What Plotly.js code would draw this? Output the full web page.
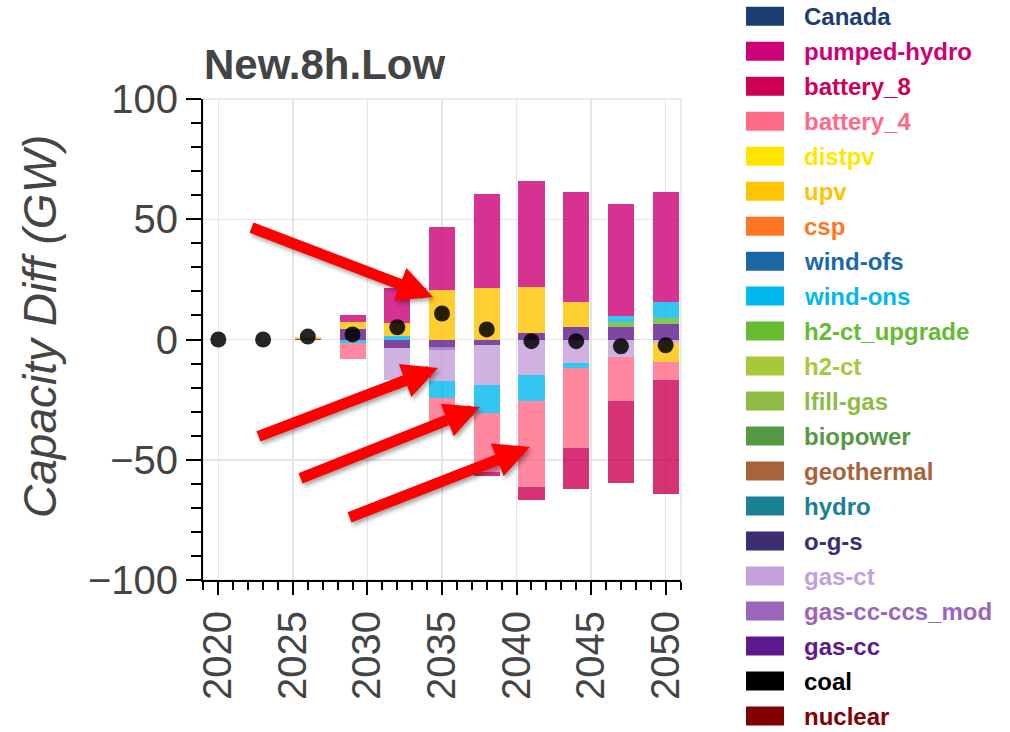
<!DOCTYPE html>
<html>
<head>
<meta charset="utf-8">
<script src="https://cdn.plot.ly/plotly-3.0.1.min.js"></script>
<style>
  html, body { margin: 0; padding: 0; background: #fff; }
  #chart { width: 1010px; height: 732px; }
  .annotation-arrow-g { filter: drop-shadow(2px 3px 2px rgba(0, 0, 0, 0.35)); }
</style>
</head>
<body>
<div id="chart"></div>
<script>
// Solve years
const years = [2020, 2023, 2026, 2029, 2032, 2035, 2038, 2041, 2044, 2047, 2050];

// Capacity difference by technology (GW)
const nuclear      = [0, 0, 0, 0, 0, 0, 0, 0, 0, 0, 0];
const coal         = [0, 0, 0, 0, 0, 0, 0, 0, 0, 0, 0];
const gasCC        = [0, 0, 0.3, 4.5, -3.5, -3.0, -2.3, 2.8, 5.3, 5.3, 6.4];
const gasCCCCS     = [0, 0, 0, 0, 0, -1.2, 0, 0, 0, 0, 0];
const gasCT        = [0, 0, 0, 0, -13.3, -13.1, -16.6, -14.6, -9.9, -7.2, -1.6];
const ogs          = [0, 0, 0, 0, 0, 0, 0, 0, 0, 0, 0];
const hydro        = [0, 0, 0, 0, 0, 0, 0, 0, 0, 0, 0];
const geothermal   = [0, 0, 0, 0, 0, 0, 0, 0, 0, 0, 0];
const biopower     = [0, 0, 0, 0, 0, 0, 0, 0, 0, 0, 0];
const lfillGas     = [0, 0, 0, 0, 0, 0, 0, 0, 0, 0, 0];
const h2CT         = [0, 0, 0, 0, 0, 0, 0, 0, 0, 0, 0];
const h2CTUpgrade  = [0, 0, 0, 0, 0, 0, 0, 0, 0, 2.1, 2.4];
const windOns      = [0, 0, 0, -1.5, 1.5, -7.0, -11.5, -11.0, -2.1, 2.5, 6.9];
const windOfs      = [0, 0, 0, 0, 0, 0, 0, 0, 0, 0, 0];
const csp          = [0, 0, 0, 0, 0, 0, 0, 0, 0, 0, 0];
const upv          = [0, 0, 0.9, 2.8, 5.2, 20.6, 21.3, 19.2, 10.4, 0, -7.9];
const distpv       = [0, 0, 0, 0, 0, 0, 0, 0, 0, 0, 0];
const battery4     = [0, 0, 0, -6.7, 0, -11.3, -24.6, -35.9, -33.2, -18.4, -7.3];
const battery8     = [0, 0, 0, 0, 0, 0, -1.8, -5.2, -17.1, -33.9, -47.4];
const pumpedHydro  = [0, 0, 0, 2.9, 14.6, 26.0, 39.2, 44.0, 45.5, 46.4, 45.5];
const canada       = [0, 0, 0, 0, 0, 0, 0, 0, 0, 0, 0];

// Net capacity difference (GW)
const netChange = [0, 0, 1.2, 2.1, 5.1, 10.8, 4.2, -0.7, -0.7, -2.8, -2.4];

// Stacking order, from the zero line outward
const techNames = ['nuclear', 'coal', 'gas-cc', 'gas-cc-ccs_mod', 'gas-ct', 'o-g-s', 'hydro',
  'geothermal', 'biopower', 'lfill-gas', 'h2-ct', 'h2-ct_upgrade', 'wind-ons', 'wind-ofs',
  'csp', 'upv', 'distpv', 'battery_4', 'battery_8', 'pumped-hydro', 'Canada'];
const techColors = ['#820000', '#000000', '#5e1a8c', '#9966bb', '#c4a0da', '#3d2e72', '#1a8096',
  '#a9633a', '#559944', '#8ebb44', '#a6c83a', '#66bb33', '#00b8ee', '#1a69a6',
  '#ff7722', '#ffc400', '#ffe600', '#ff6a86', '#cc0055', '#cc0077', '#1c3d70'];
const techValues = [nuclear, coal, gasCC, gasCCCCS, gasCT, ogs, hydro, geothermal, biopower,
  lfillGas, h2CT, h2CTUpgrade, windOns, windOfs, csp, upv, distpv, battery4, battery8,
  pumpedHydro, canada];

const FONT = 'Liberation Sans, Arial, Helvetica, sans-serif';

const traces = techNames.map((name, i) => ({
  type: 'bar',
  name: name,
  x: years,
  y: techValues[i],
  width: 1.75,
  opacity: 0.8,
  marker: { color: techColors[i], line: { width: 0 } },
  showlegend: false,
  hoverinfo: 'x+y+name'
}));

traces.push({
  type: 'scatter',
  mode: 'markers',
  name: 'net',
  x: years,
  y: netChange,
  marker: { color: 'rgba(0,0,0,0.85)', size: 16 },
  showlegend: false
});

// plot area in pixels
const L = 203, R = 681, T = 99, B = 580;
const px = v => (v - L) / (R - L);
const py = v => (B - v) / (B - T);

const annotations = [];
const shapes = [];

// y-axis title
annotations.push({
  xref: 'paper', yref: 'paper', x: px(40), y: py(327),
  xanchor: 'center', yanchor: 'middle', textangle: -90, showarrow: false,
  text: '<i>Capacity Diff (GW)</i>',
  font: { family: FONT, size: 46, color: '#444' }
});

// callout arrows: [tail x, tail y, tip x, tip y]
const arrows = [
  [250, 227, 433, 297],
  [257, 437, 438, 368],
  [299, 479, 480, 407],
  [348, 518, 530, 447]
];
arrows.forEach(a => {
  annotations.push({
    xref: 'paper', yref: 'paper', x: px(a[2]), y: py(a[3]),
    axref: 'pixel', ayref: 'pixel', ax: a[0] - a[2], ay: a[1] - a[3],
    text: '', showarrow: true, arrowhead: 2, arrowwidth: 11, arrowsize: 0.64,
    arrowcolor: '#ff0000'
  });
});

// legend, listed from the outermost stack layer down
const rowTop = 16.2, rowStep = 34.99;
for (let k = 0; k < techNames.length; k++) {
  const i = techNames.length - 1 - k;
  const cy = rowTop + rowStep * k;
  shapes.push({
    type: 'rect', xref: 'paper', yref: 'paper',
    x0: px(746), x1: px(784), y0: py(cy + 9.5), y1: py(cy - 9.5),
    fillcolor: techColors[i], line: { width: 0 }
  });
  annotations.push({
    xref: 'paper', yref: 'paper', x: px(802), y: py(cy),
    xanchor: 'left', yanchor: 'middle', showarrow: false,
    text: '<b>' + techNames[i] + '</b>',
    font: { family: FONT, size: 24, color: techColors[i] }
  });
}

// light outline on the top and right of the plot area
shapes.push({
  type: 'rect', xref: 'paper', yref: 'paper', x0: 0, x1: 1, y0: 0, y1: 1,
  line: { color: '#e5e5e5', width: 1.5 }, layer: 'below'
});

const layout = {
  width: 1010, height: 732,
  margin: { l: L, r: 1010 - R, t: T, b: 732 - B, pad: 0 },
  paper_bgcolor: '#ffffff', plot_bgcolor: '#ffffff',
  barmode: 'relative', bargap: 0,
  showlegend: false,
  font: { family: FONT, color: '#444' },
  title: {
    text: '<b>New.8h.Low</b>',
    font: { family: FONT, size: 42, color: '#444' },
    xref: 'container', x: 204 / 1010, xanchor: 'left',
    yref: 'container', y: 1 - 64 / 732, yanchor: 'middle'
  },
  xaxis: {
    range: [2018.97, 2051.03],
    tickmode: 'linear', tick0: 2020, dtick: 5,
    ticks: 'outside', ticklen: 13, tickwidth: 2, tickcolor: '#000',
    showline: true, linecolor: '#000', linewidth: 2,
    showgrid: true, gridcolor: '#e5e5e5', gridwidth: 1.5, zeroline: false,
    tickangle: -90, tickfont: { family: FONT, size: 40, color: '#444' },
    minor: { tick0: 2020, dtick: 1, ticks: 'outside', ticklen: 8, tickwidth: 2, tickcolor: '#000', showgrid: false },
    fixedrange: true
  },
  yaxis: {
    range: [-100, 100],
    tickmode: 'linear', tick0: 0, dtick: 50,
    ticks: 'outside', ticklen: 15, tickwidth: 2, tickcolor: '#000',
    showline: true, linecolor: '#000', linewidth: 2,
    showgrid: true, gridcolor: '#e5e5e5', gridwidth: 1.5, zeroline: false,
    tickfont: { family: FONT, size: 40, color: '#444' },
    minor: { tick0: 0, dtick: 10, ticks: 'outside', ticklen: 10, tickwidth: 2, tickcolor: '#000', showgrid: false },
    fixedrange: true
  },
  shapes: shapes,
  annotations: annotations
};

Plotly.newPlot('chart', traces, layout, { displayModeBar: false, staticPlot: true });
</script>
</body>
</html>
